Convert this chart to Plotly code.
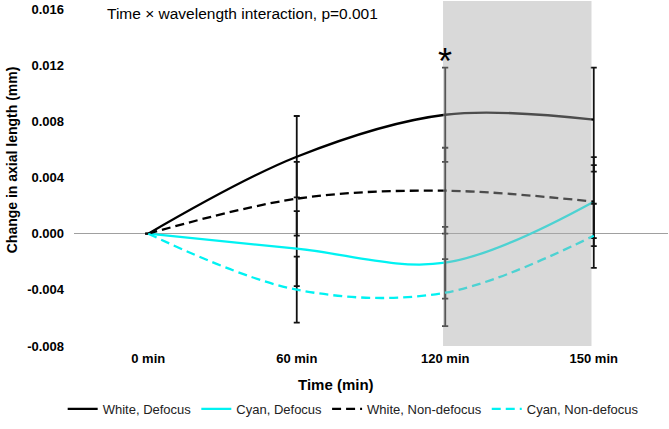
import plotly.graph_objects as go

categories = ["0 min", "60 min", "120 min", "150 min"]
white_defocus = [0.0, 0.00548, 0.00847, 0.00812]
cyan_defocus = [0.0, -0.00107, -0.00207, 0.00228]
white_nondefocus = [0.0, 0.00249, 0.00306, 0.00228]
cyan_nondefocus = [0.0, -0.00399, -0.00420, -0.00015]

white_defocus_err = [0.0, 0.00290, 0.00335, 0.00370]
cyan_defocus_err = [0.0, 0.00267, 0.00256, 0.00260]
white_nondefocus_err = [0.0, 0.00263, 0.00306, 0.00317]
cyan_nondefocus_err = [0.0, 0.00235, 0.00239, 0.00228]

y_ticks = [0.016, 0.012, 0.008, 0.004, 0.0, -0.004, -0.008]
y_tick_labels = ["0.016", "0.012", "0.008", "0.004", "0.000", "-0.004", "-0.008"]

FONT = "Liberation Sans, Arial, sans-serif"
CYAN = "#00F2F2"

series = [
    ("White, Defocus", white_defocus, white_defocus_err, "black", "solid"),
    ("Cyan, Defocus", cyan_defocus, cyan_defocus_err, CYAN, "solid"),
    ("White, Non-defocus", white_nondefocus, white_nondefocus_err, "black", "9px,5px"),
    ("Cyan, Non-defocus", cyan_nondefocus, cyan_nondefocus_err, CYAN, "9px,5px"),
]

fig = go.Figure()
for name, vals, errs, col, dash in series:
    fig.add_trace(go.Scatter(
        x=categories, y=vals, name=name, mode="lines",
        line=dict(color=col, width=2.3, dash=dash, shape="spline", smoothing=1.0),
        error_y=dict(type="data", array=errs, visible=True, color="#111111",
                     thickness=1.8, width=3),
    ))

fig.add_shape(type="rect", xref="x", yref="paper", x0=1.985, x1=2.985, y0=0, y1=1,
              fillcolor="#aaaaaa", opacity=0.45, line=dict(width=0), layer="above")

fig.add_annotation(text="Time × wavelength interaction, p=0.001", xref="paper", yref="paper",
                   x=0.283, y=0.965, showarrow=False, xanchor="center", yanchor="middle",
                   font=dict(family=FONT, size=15.5, color="black"))
fig.add_annotation(text="*", xref="x", yref="y", x=2, y=0.01225, showarrow=False,
                   xanchor="center", yanchor="middle",
                   font=dict(family=FONT, size=36, color="black"))
fig.add_annotation(text="<b>Change in axial length (mm)</b>", xref="paper", yref="paper",
                   x=-0.104, y=0.539, textangle=-90, showarrow=False,
                   xanchor="center", yanchor="middle",
                   font=dict(family=FONT, size=14, color="black"))
fig.add_annotation(text="<b>Time (min)</b>", xref="paper", yref="paper",
                   x=0.441, y=-0.113, showarrow=False,
                   xanchor="center", yanchor="middle",
                   font=dict(family=FONT, size=15, color="black"))

fig.update_layout(
    width=669, height=429,
    margin=dict(l=74, r=1, t=1, b=83),
    paper_bgcolor="white", plot_bgcolor="white",
    font=dict(family=FONT, size=13, color="black"),
    showlegend=True,
    legend=dict(orientation="h", x=0.47, xanchor="center", yref="container", y=0.047,
                yanchor="middle", font=dict(family=FONT, size=13, color="#222222"),
                itemwidth=30, traceorder="normal"),
    xaxis=dict(type="category", range=[-0.5, 3.5], showgrid=False, zeroline=False,
               showline=False, ticks="",
               tickfont=dict(family=FONT, size=13, color="black", weight="bold"),
               ticklabelstandoff=3),
    yaxis=dict(range=[-0.008, 0.01657], showgrid=False, zeroline=True, zerolinecolor="#a0a0a0",
               zerolinewidth=1, showline=False, ticks="", tickvals=y_ticks, ticktext=y_tick_labels,
               tickfont=dict(family=FONT, size=13, color="black", weight="bold"),
               ticklabelstandoff=9),
)

fig.write_html("out.html")
